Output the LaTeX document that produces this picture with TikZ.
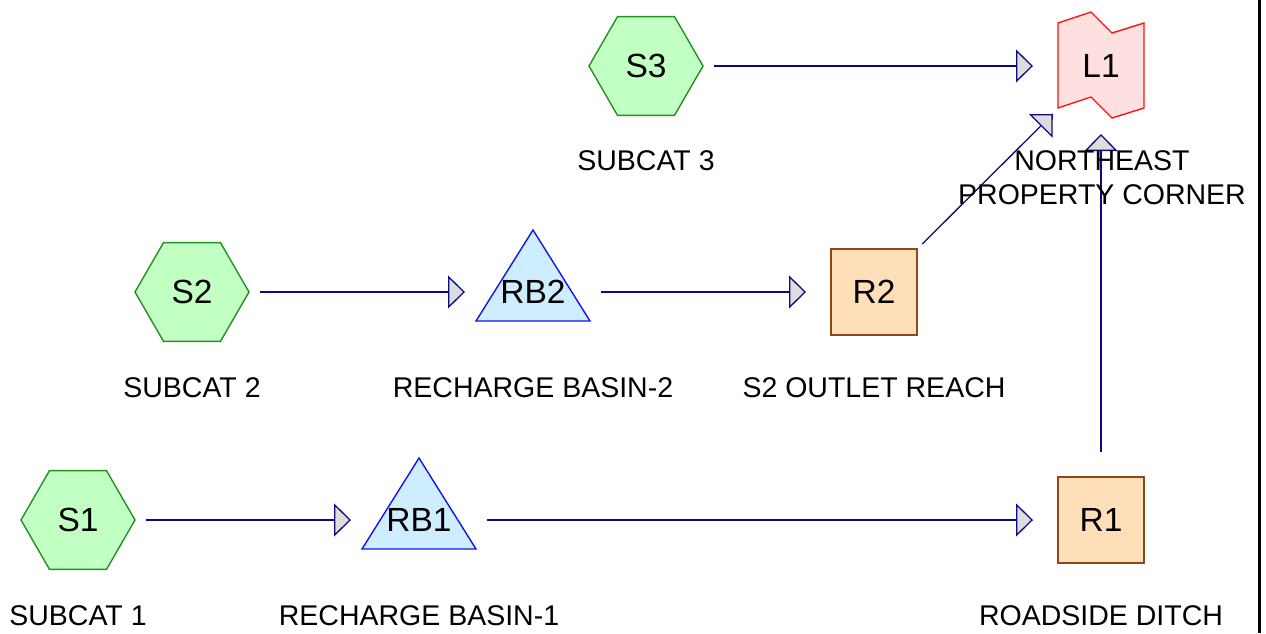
\documentclass[tikz,border=0pt]{standalone}
\usepackage{fontspec}
\setmainfont{Liberation Sans}
\usetikzlibrary{shapes.geometric,arrows.meta}
\pgfdeclarelayer{background}
\pgfsetlayers{background,main}

\definecolor{subfill}{RGB}{194,255,194}
\definecolor{subline}{RGB}{34,145,34}
\definecolor{basinfill}{RGB}{206,238,255}
\definecolor{basinline}{RGB}{20,20,235}
\definecolor{reachfill}{RGB}{255,222,186}
\definecolor{reachline}{RGB}{140,72,22}
\definecolor{linkfill}{RGB}{255,224,224}
\definecolor{linkline}{RGB}{250,20,20}
\definecolor{flowline}{RGB}{10,10,130}
\definecolor{headfill}{RGB}{221,221,221}

\tikzset{
  nodetext/.style={font=\fontsize{33.5}{40}\selectfont, inner sep=0pt},
  caption/.style={font=\fontsize{28.5}{34}\selectfont, inner sep=0pt, align=center},
  subcat/.style={nodetext, regular polygon, regular polygon sides=6,
    minimum size=114pt, draw=subline, fill=subfill, line width=1.4pt},
  reach/.style={nodetext, rectangle, minimum size=86pt,
    draw=reachline, fill=reachfill, line width=1.4pt},
  basin/.style={draw=basinline, fill=basinfill, line width=1.4pt, line join=miter},
  pond/.style={draw=linkline, fill=linkfill, line width=1.4pt, line join=miter},
  flow/.style={draw=flowline, line width=1.3pt, shorten <=68pt, shorten >=68pt,
    -{Triangle[length=17pt, width=33pt, fill=headfill, line width=1.3pt]}},
}

\begin{document}
\begin{tikzpicture}[x=1pt, y=-1pt]
\useasboundingbox (0,0) rectangle (1266,633);

% frame edge on the right
\draw[line width=3.5pt] (1259.3,0) -- (1259.3,633);

% subcatchments
\node[subcat] (S1) at (78,520) {S1};
\node[subcat] (S2) at (192,292) {S2};
\node[subcat] (S3) at (646,66) {S3};

% recharge basins (triangles drawn behind their labels)
\node[nodetext] (RB1) at (419,520) {RB1};
\node[nodetext] (RB2) at (533,292) {RB2};
\begin{pgfonlayer}{background}
  \foreach \b in {RB1,RB2}{
    \draw[basin] ([shift={(0,-62)}]\b.center) -- ([shift={(57,29)}]\b.center)
      -- ([shift={(-57,29)}]\b.center) -- cycle;
  }
\end{pgfonlayer}

% reaches
\node[reach] (R1) at (1101,520) {R1};
\node[reach] (R2) at (874,292) {R2};

% link node
\node[nodetext] (L1) at (1101,66) {L1};
\begin{pgfonlayer}{background}
  \draw[pond] ([shift={(-43,-43)}]L1.center) -- ([shift={(-10,-54)}]L1.center)
    -- ([shift={(11,-33)}]L1.center) -- ([shift={(43,-43)}]L1.center)
    -- ([shift={(43,42)}]L1.center) -- ([shift={(11,52)}]L1.center)
    -- ([shift={(-10,31)}]L1.center) -- ([shift={(-43,42)}]L1.center) -- cycle;
\end{pgfonlayer}

% captions
\node[caption] (S1cap) at (78,616) {SUBCAT 1};
\node[caption] (RB1cap) at (419,616) {RECHARGE BASIN-1};
\node[caption] (R1cap) at (1101,616) {ROADSIDE DITCH};
\node[caption] (S2cap) at (192,388) {SUBCAT 2};
\node[caption] (RB2cap) at (533,388) {RECHARGE BASIN-2};
\node[caption] (R2cap) at (874,388) {S2 OUTLET REACH};
\node[caption] (S3cap) at (646,161) {SUBCAT 3};

% flow connections
\draw[flow] (S1.center) -- (RB1.center);
\draw[flow] (RB1.center) -- (R1.center);
\draw[flow] (S2.center) -- (RB2.center);
\draw[flow] (RB2.center) -- (R2.center);
\draw[flow] (S3.center) -- (L1.center);
\draw[flow] (R2.center) -- (L1.center);
\draw[flow] (R1.center) -- (L1.center);

% caption of the link node sits over the incoming connectors
\node[caption] (L1cap) at (1102,178) {NORTHEAST\\PROPERTY CORNER};
\end{tikzpicture}
\end{document}
